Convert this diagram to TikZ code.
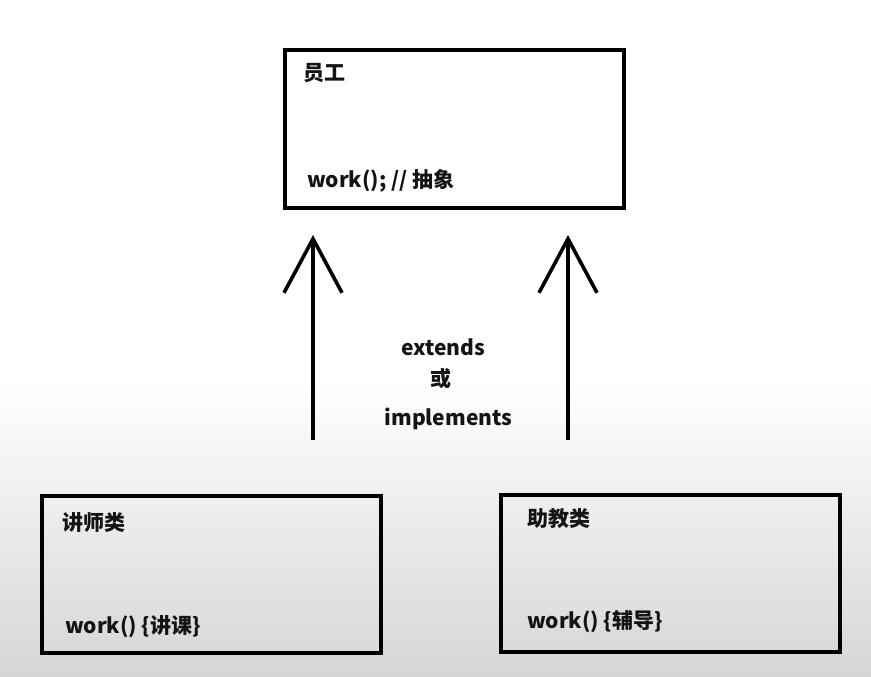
\documentclass[tikz,border=0pt]{standalone}
\usepackage{fontspec}
\setmainfont{Noto Sans CJK SC}
\usetikzlibrary{arrows.meta}
\definecolor{bgbottom}{RGB}{214,214,214}
\definecolor{txt}{RGB}{20,20,20}
\tikzset{
  classbox/.style={draw=black, line width=4pt, rectangle, minimum width=339pt, minimum height=157pt, inner sep=0pt},
  lbl/.style={font=\fontsize{21pt}{25pt}\selectfont\bfseries, text=txt, inner sep=0pt},
  inherit/.style={line width=3.6pt, -{Straight Barb[length=54pt, width=58pt, line width=3.6pt]}}
}
\begin{document}
\begin{tikzpicture}[x=1pt, y=-1pt]
\useasboundingbox (0,0) rectangle (871,677);
\fill[white] (0,0) rectangle (871,677);
\shade[top color=white, bottom color=bgbottom] (0,380) rectangle (871,677);
% boxes
\node[classbox, fill=white] (emp) at (454,129) {};
\node[classbox, fill=none] (lect) at (211.5,574) {};
\node[classbox, fill=none] (asst) at (670.5,573) {};
% labels
\node[lbl, anchor=base west] (empname) at (303,81) {员工};
\node[lbl, anchor=base west] (empwork) at (307,187) {work(); // 抽象};
\node[lbl, anchor=base west] (lectname) at (62,530) {讲师类};
\node[lbl, anchor=base west] (lectwork) at (65,633) {work() \{讲课\}};
\node[lbl, anchor=base west] (asstname) at (527,526) {助教类};
\node[lbl, anchor=base west] (asstwork) at (527,628) {work() \{辅导\}};
\node[lbl, anchor=base] (ext) at (443,355) {extends};
\node[lbl, anchor=base] (or) at (441,386) {或};
\node[lbl, anchor=base] (impl) at (448.5,425) {implements};
% arrows
\coordinate (a1s) at (313,440);
\coordinate (a1e) at (313,235);
\coordinate (a2s) at (568,440);
\coordinate (a2e) at (568,235);
\draw[inherit] (a1s) -- (a1e);
\draw[inherit] (a2s) -- (a2e);
\end{tikzpicture}
\end{document}
